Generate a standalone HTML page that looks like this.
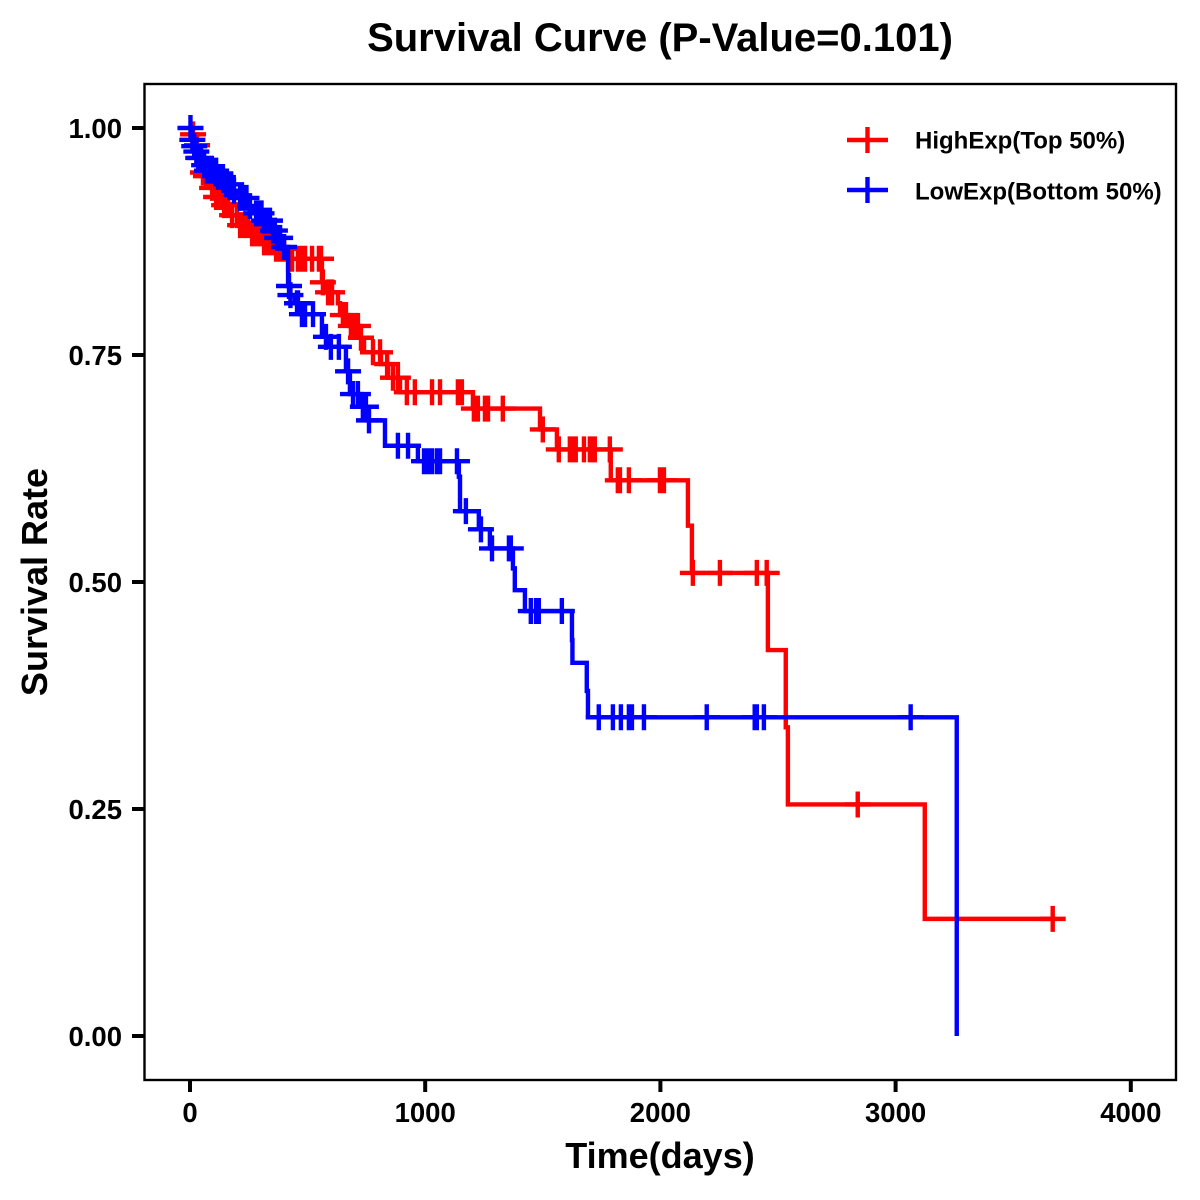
<!DOCTYPE html>
<html>
<head>
<meta charset="utf-8">
<title>Survival Curve</title>
<style>
html,body{margin:0;padding:0;background:#fff;}
svg{display:block;}
text{font-family:"Liberation Sans",Arial,sans-serif;font-weight:bold;fill:#000;}
</style>
</head>
<body>
<svg id="chart" xmlns="http://www.w3.org/2000/svg" width="1200" height="1200" viewBox="0 0 1200 1200">
  <rect x="0" y="0" width="1200" height="1200" fill="#fff"/>
  <text x="660" y="51" font-size="40" text-anchor="middle">Survival Curve (P-Value=0.101)</text>
  <text x="660" y="1168" font-size="36" text-anchor="middle">Time(days)</text>
  <text transform="translate(47,582) rotate(-90)" font-size="36" text-anchor="middle">Survival Rate</text>
  <g id="ticks"></g>
  <g id="series"></g>
  <rect x="144.5" y="84" width="1031.5" height="996" fill="none" stroke="#000" stroke-width="2.4"/>
  <g>
    <g>
      <path d="M847 140H888M867.5 127V153" stroke="#f00" stroke-width="4.4" fill="none"/>
      <text x="915" y="148.5" font-size="24">HighExp(Top 50%)</text>
    </g>
    <g>
      <path d="M847 190H888M867.5 177V203" stroke="#00f" stroke-width="4.4" fill="none"/>
      <text x="915" y="199.5" font-size="24">LowExp(Bottom 50%)</text>
    </g>
  </g>
</svg>
<script>
const xTickValues = [0, 1000, 2000, 3000, 4000];
const xTickLabels = ["0", "1000", "2000", "3000", "4000"];
const yTickValues = [0, 0.25, 0.5, 0.75, 1];
const yTickLabels = ["0.00", "0.25", "0.50", "0.75", "1.00"];

const highTimes = [0,8,26,38,51,64,85,106,136,170,204,255,306,361,404,561,578,629,638,676,723,740,812,842,893,1203,1488,1560,1789,2117,2134,2457,2533,2542,3124,3668];
const highSurv = [1,.993,.981,.967,.951,.947,.934,.924,.915,.904,.893,.884,.874,.867,.856,.83,.819,.807,.794,.782,.769,.753,.74,.725,.709,.691,.668,.646,.612,.562,.51,.425,.34,.255,.129,.129];
const highCensor = [13,30,43,55,68,77,94,111,128,145,162,179,200,213,230,247,264,281,298,315,332,349,366,383,400,417,434,459,476,489,519,548,557,565,587,604,650,663,684,701,714,727,778,808,838,863,884,922,956,1029,1063,1139,1156,1207,1224,1254,1267,1330,1500,1568,1615,1628,1640,1675,1700,1713,1721,1785,1819,1828,1866,1998,2006,2015,2138,2253,2410,2452,2839,3668];

const lowTimes = [0,9,17,26,34,51,68,85,115,145,179,204,247,272,306,349,366,391,417,425,446,468,561,591,663,680,731,757,829,969,1143,1148,1228,1275,1373,1381,1424,1624,1626,1687,1692,3260];
const lowSurv = [1,.987,.98,.974,.967,.959,.953,.953,.946,.938,.931,.923,.914,.906,.898,.887,.879,.869,.826,.816,.807,.795,.77,.759,.732,.707,.693,.678,.65,.633,.616,.578,.558,.537,.515,.491,.468,.436,.411,.38,.351,0];
const lowCensor = [2,10,18,27,35,47,60,72,80,94,103,111,119,132,140,153,166,175,187,213,230,240,255,281,289,304,315,323,332,340,353,361,370,383,400,421,427,455,459,476,489,523,578,599,633,672,693,714,735,748,761,884,927,995,1012,1029,1050,1063,1135,1173,1237,1284,1356,1364,1449,1471,1483,1581,1738,1798,1832,1866,1879,1930,2197,2401,2410,2440,3064];

const xScale = function (t) { return 190 + t * 0.2352; };
const yScale = function (s) { return 1036 - s * 908; };
const NS = "http://www.w3.org/2000/svg";
const ticksGroup = document.getElementById("ticks");
const seriesGroup = document.getElementById("series");

function make(tag, attrs, parent) {
  const node = document.createElementNS(NS, tag);
  Object.keys(attrs).forEach(function (k) { node.setAttribute(k, attrs[k]); });
  parent.appendChild(node);
  return node;
}

xTickValues.forEach(function (v, i) {
  const px = xScale(v);
  const tick = make("line", { x1: px, x2: px, y1: 1080, y2: 1092, stroke: "#000", "stroke-width": 4 }, ticksGroup);
  
  
  const label = make("text", { x: px, y: 1122, "font-size": 27.5, "text-anchor": "middle" }, ticksGroup);
  
  
  label.textContent = xTickLabels[i];
});

yTickValues.forEach(function (v, i) {
  const py = yScale(v);
  const tick = make("line", { x1: 132, x2: 144, y1: py, y2: py, stroke: "#000", "stroke-width": 4 }, ticksGroup);
  
  
  const label = make("text", { x: 122, y: py + 10, "font-size": 27.5, "text-anchor": "end" }, ticksGroup);
  
  
  label.textContent = yTickLabels[i];
});

function stepPath(times, surv) {
  let d = "M" + xScale(times[0]) + " " + yScale(surv[0]);
  for (let i = 1; i < times.length; i++) {
    d += "H" + xScale(times[i]) + "V" + yScale(surv[i]);
  }
  return d;
}

function survivalAt(times, surv, t) {
  let s = surv[0];
  for (let i = 0; i < times.length; i++) {
    if (times[i] <= t) { s = surv[i]; }
  }
  return s;
}

function censorPath(times, surv, censor) {
  let d = "";
  censor.forEach(function (t) {
    const px = xScale(t);
    const py = yScale(survivalAt(times, surv, t));
    d += "M" + (px - 13) + " " + py + "H" + (px + 13) + "M" + px + " " + (py - 13) + "V" + (py + 13);
  });
  return d;
}

const highLine = make("path", { d: stepPath(highTimes, highSurv), fill: "none", stroke: "#f00", "stroke-width": 4.4, "stroke-linejoin": "miter" }, seriesGroup);



const highMarks = make("path", { d: censorPath(highTimes, highSurv, highCensor), fill: "none", stroke: "#f00", "stroke-width": 4.4 }, seriesGroup);



const lowLine = make("path", { d: stepPath(lowTimes, lowSurv), fill: "none", stroke: "#00f", "stroke-width": 4.4, "stroke-linejoin": "miter" }, seriesGroup);



const lowMarks = make("path", { d: censorPath(lowTimes, lowSurv, lowCensor), fill: "none", stroke: "#00f", "stroke-width": 4.4 }, seriesGroup);


</script>
</body>
</html>
